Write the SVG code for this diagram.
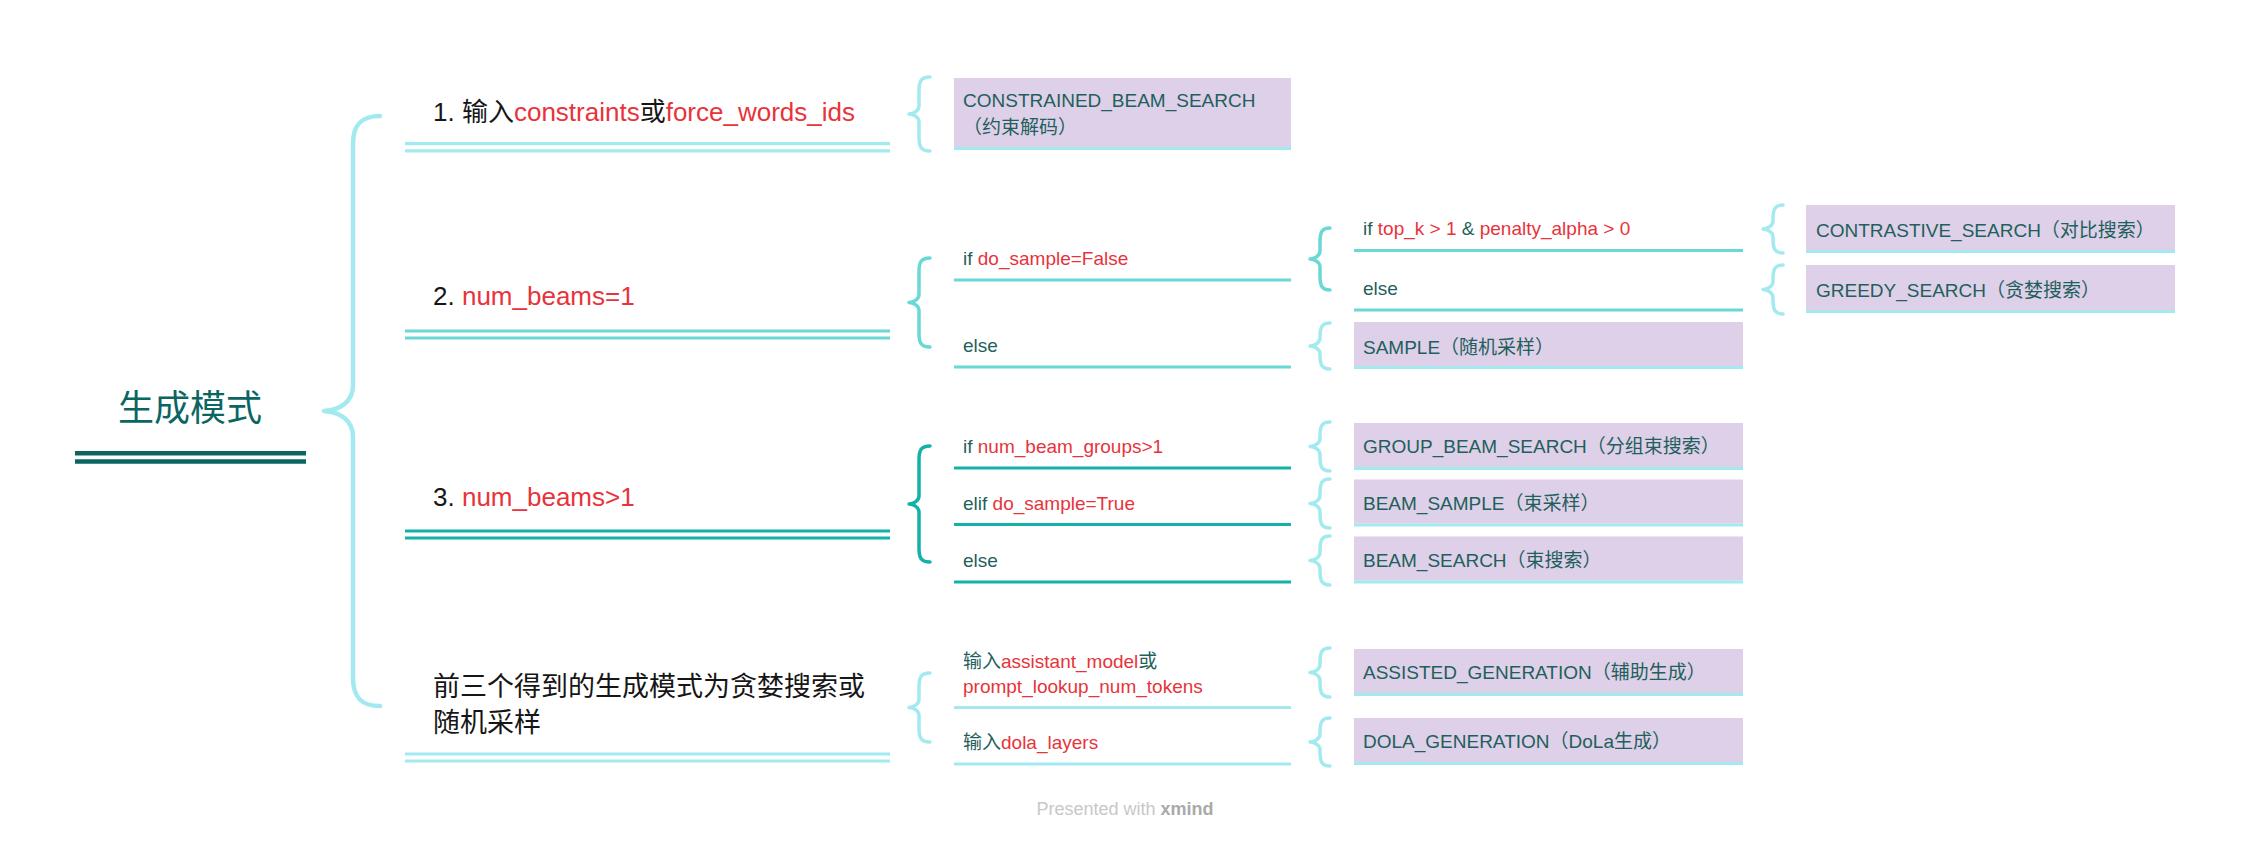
<svg xmlns="http://www.w3.org/2000/svg" width="2251" height="841" viewBox="0 0 2251 841">
<style>
text{font-family:"Liberation Sans","Noto Sans CJK SC",sans-serif;}
.root{font-size:36px;fill:#0b6662;}
.l1{font-size:26px;fill:#161616;}
.l1c{font-size:27px;fill:#161616;}
.l2{font-size:19px;fill:#1f5f5c;}
.red{fill:#e8333b;}
.br{fill:none;stroke-linecap:round;stroke-linejoin:round;}
.c1{stroke:#a2eaef;}
.c2{stroke:#6ad8d5;}
.c3{stroke:#13b2a9;}
.box{fill:#ddd0e8;}
.bl{stroke:#a2eaef;stroke-width:3;}
.ul{stroke-width:3.2;}
.foot{font-size:18px;fill:#c8c8c8;}
</style>
<rect width="2251" height="841" fill="#ffffff"/>

<g id="connectors">
  <path class="br c1" stroke-width="4.5" d="M380,116 C362,116 353,124 353,144 L353,385 C353,402 340,410 324,411 C340,412 353,420 353,437 L353,678 C353,698 362,706 380,706"/>
  <path class="br c1" stroke-width="3.5" d="M930,77 C921,77 919,81 919,91 L919,106 C919,111 913,114 909,114 C913,114 919,117 919,122 L919,137 C919,147 921,151 930,151"/>
  <path class="br c2" stroke-width="3.5" d="M930,258 C921,258 919,262 919,272 L919,294.5 C919,299.5 913,302.5 909,302.5 C913,302.5 919,305.5 919,310.5 L919,333 C919,343 921,347 930,347"/>
  <path class="br c3" stroke-width="3.5" d="M930,446 C921,446 919,450 919,460 L919,496 C919,501 913,504 909,504 C913,504 919,507 919,512 L919,548 C919,558 921,562 930,562"/>
  <path class="br c1" stroke-width="3.5" d="M930,673 C921,673 919,677 919,687 L919,699.5 C919,704.5 913,707.5 909,707.5 C913,707.5 919,710.5 919,715.5 L919,728 C919,738 921,742 930,742"/>
  <path class="br c2" stroke-width="3.5" d="M1330,228 C1322,228 1320,232 1320,242 L1320,251 C1320,256 1314,259 1310,259 C1314,259 1320,262 1320,267 L1320,276 C1320,286 1322,290 1330,290"/>
  <path class="br c1" stroke-width="3.5" d="M1330,323 C1322,323 1320,327 1320,337 L1320,338 C1320,343 1314,346 1310,346 C1314,346 1320,349 1320,354 L1320,355 C1320,365 1322,369 1330,369"/>
  <path class="br c1" stroke-width="3.5" d="M1330,422 C1322,422 1320,426 1320,436 L1320,438.5 C1320,443.5 1314,446.5 1310,446.5 C1314,446.5 1320,449.5 1320,454.5 L1320,457 C1320,467 1322,471 1330,471"/>
  <path class="br c1" stroke-width="3.5" d="M1330,479 C1322,479 1320,483 1320,493 L1320,495.5 C1320,500.5 1314,503.5 1310,503.5 C1314,503.5 1320,506.5 1320,511.5 L1320,514 C1320,524 1322,528 1330,528"/>
  <path class="br c1" stroke-width="3.5" d="M1330,536 C1322,536 1320,540 1320,550 L1320,552.5 C1320,557.5 1314,560.5 1310,560.5 C1314,560.5 1320,563.5 1320,568.5 L1320,571 C1320,581 1322,585 1330,585"/>
  <path class="br c1" stroke-width="3.5" d="M1330,648 C1322,648 1320,652 1320,662 L1320,664.5 C1320,669.5 1314,672.5 1310,672.5 C1314,672.5 1320,675.5 1320,680.5 L1320,683 C1320,693 1322,697 1330,697"/>
  <path class="br c1" stroke-width="3.5" d="M1330,718 C1322,718 1320,722 1320,732 L1320,734 C1320,739 1314,742 1310,742 C1314,742 1320,745 1320,750 L1320,752 C1320,762 1322,766 1330,766"/>
  <path class="br c1" stroke-width="3.5" d="M1783,205 C1775,205 1773,209 1773,219 L1773,221 C1773,226 1767,229 1763,229 C1767,229 1773,232 1773,237 L1773,239 C1773,249 1775,253 1783,253"/>
  <path class="br c1" stroke-width="3.5" d="M1783,265 C1775,265 1773,269 1773,279 L1773,281.5 C1773,286.5 1767,289.5 1763,289.5 C1767,289.5 1773,292.5 1773,297.5 L1773,300 C1773,310 1775,314 1783,314"/>
</g>

<g id="root">
  <text class="root" x="190" y="421" text-anchor="middle">生成模式</text>
  <line x1="75" y1="453.3" x2="306" y2="453.3" stroke="#0b6662" stroke-width="4.5"/>
  <line x1="75" y1="461.5" x2="306" y2="461.5" stroke="#0b6662" stroke-width="4.5"/>
</g>

<g id="branch1">
  <text class="l1" x="433" y="121">1. 输入<tspan class="red">constraints</tspan>或<tspan class="red">force_words_ids</tspan></text>
  <line class="c1 ul" x1="405" y1="143.7" x2="890" y2="143.7"/>
  <line class="c1 ul" x1="405" y1="150.8" x2="890" y2="150.8"/>
</g>
<g id="branch2">
  <text class="l1" x="433" y="305">2. <tspan class="red">num_beams=1</tspan></text>
  <line class="c2 ul" x1="405" y1="331" x2="890" y2="331"/>
  <line class="c2 ul" x1="405" y1="338" x2="890" y2="338"/>
</g>
<g id="branch3">
  <text class="l1" x="433" y="506">3. <tspan class="red">num_beams&gt;1</tspan></text>
  <line class="c3 ul" x1="405" y1="531" x2="890" y2="531"/>
  <line class="c3 ul" x1="405" y1="538" x2="890" y2="538"/>
</g>
<g id="branch4">
  <text class="l1c" x="433" y="696">前三个得到的生成模式为贪婪搜索或</text>
  <text class="l1c" x="433" y="732">随机采样</text>
  <line class="c1 ul" x1="405" y1="754" x2="890" y2="754"/>
  <line class="c1 ul" x1="405" y1="761" x2="890" y2="761"/>
</g>

<g id="constrained">
  <rect class="box" x="954" y="78" width="337" height="69"/>
  <line class="bl" x1="954" y1="148.5" x2="1291" y2="148.5"/>
  <text class="l2" x="963" y="107">CONSTRAINED_BEAM_SEARCH</text>
  <text class="l2" x="963" y="134">（约束解码）</text>
</g>
<g id="if-do-sample-false">
  <text class="l2" x="963" y="265">if <tspan class="red">do_sample=False</tspan></text>
  <line class="c2 ul" x1="954" y1="280" x2="1291" y2="280"/>
</g>
<g id="else-b2">
  <text class="l2" x="963" y="352">else</text>
  <line class="c2 ul" x1="954" y1="367" x2="1291" y2="367"/>
</g>
<g id="if-num-beam-groups">
  <text class="l2" x="963" y="453">if <tspan class="red">num_beam_groups&gt;1</tspan></text>
  <line class="c3 ul" x1="954" y1="468" x2="1291" y2="468"/>
</g>
<g id="elif-do-sample-true">
  <text class="l2" x="963" y="510">elif <tspan class="red">do_sample=True</tspan></text>
  <line class="c3 ul" x1="954" y1="524.5" x2="1291" y2="524.5"/>
</g>
<g id="else-b3">
  <text class="l2" x="963" y="567">else</text>
  <line class="c3 ul" x1="954" y1="582" x2="1291" y2="582"/>
</g>
<g id="assistant-model">
  <text class="l2" x="963" y="668">输入<tspan class="red">assistant_model</tspan>或</text>
  <text class="l2 red" x="963" y="693">prompt_lookup_num_tokens</text>
  <line class="c1 ul" x1="954" y1="707.5" x2="1291" y2="707.5"/>
</g>
<g id="dola-layers">
  <text class="l2" x="963" y="748.5">输入<tspan class="red">dola_layers</tspan></text>
  <line class="c1 ul" x1="954" y1="764" x2="1291" y2="764"/>
</g>

<g id="if-top-k">
  <text class="l2" x="1363" y="235">if <tspan class="red">top_k &gt; 1</tspan> &amp; <tspan class="red">penalty_alpha &gt; 0</tspan></text>
  <line class="c2 ul" x1="1354" y1="250.5" x2="1743" y2="250.5"/>
</g>
<g id="else-b2-1">
  <text class="l2" x="1363" y="295">else</text>
  <line class="c2 ul" x1="1354" y1="310" x2="1743" y2="310"/>
</g>
<g id="sample">
  <rect class="box" x="1354" y="322" width="389" height="44"/>
  <line class="bl" x1="1354" y1="367.5" x2="1743" y2="367.5"/>
  <text class="l2" x="1363" y="354">SAMPLE（随机采样）</text>
</g>
<g id="group-beam-search">
  <rect class="box" x="1354" y="423" width="389" height="44"/>
  <line class="bl" x1="1354" y1="468.5" x2="1743" y2="468.5"/>
  <text class="l2" x="1363" y="453">GROUP_BEAM_SEARCH（分组束搜索）</text>
</g>
<g id="beam-sample">
  <rect class="box" x="1354" y="479.5" width="389" height="44"/>
  <line class="bl" x1="1354" y1="525" x2="1743" y2="525"/>
  <text class="l2" x="1363" y="510">BEAM_SAMPLE（束采样）</text>
</g>
<g id="beam-search">
  <rect class="box" x="1354" y="536.5" width="389" height="44"/>
  <line class="bl" x1="1354" y1="582" x2="1743" y2="582"/>
  <text class="l2" x="1363" y="567">BEAM_SEARCH（束搜索）</text>
</g>
<g id="assisted-generation">
  <rect class="box" x="1354" y="649" width="389" height="44"/>
  <line class="bl" x1="1354" y1="694.5" x2="1743" y2="694.5"/>
  <text class="l2" x="1363" y="679">ASSISTED_GENERATION（辅助生成）</text>
</g>
<g id="dola-generation">
  <rect class="box" x="1354" y="718" width="389" height="44"/>
  <line class="bl" x1="1354" y1="763.5" x2="1743" y2="763.5"/>
  <text class="l2" x="1363" y="748">DOLA_GENERATION（DoLa生成）</text>
</g>

<g id="contrastive-search">
  <rect class="box" x="1806" y="205" width="369" height="45"/>
  <line class="bl" x1="1806" y1="251.5" x2="2175" y2="251.5"/>
  <text class="l2" x="1816" y="237">CONTRASTIVE_SEARCH（对比搜索）</text>
</g>
<g id="greedy-search">
  <rect class="box" x="1806" y="265" width="369" height="45"/>
  <line class="bl" x1="1806" y1="311.5" x2="2175" y2="311.5"/>
  <text class="l2" x="1816" y="297">GREEDY_SEARCH（贪婪搜索）</text>
</g>

<text class="foot" x="1125" y="815" text-anchor="middle">Presented with <tspan font-weight="bold" fill="#aaaaaa">xmind</tspan></text>
</svg>
